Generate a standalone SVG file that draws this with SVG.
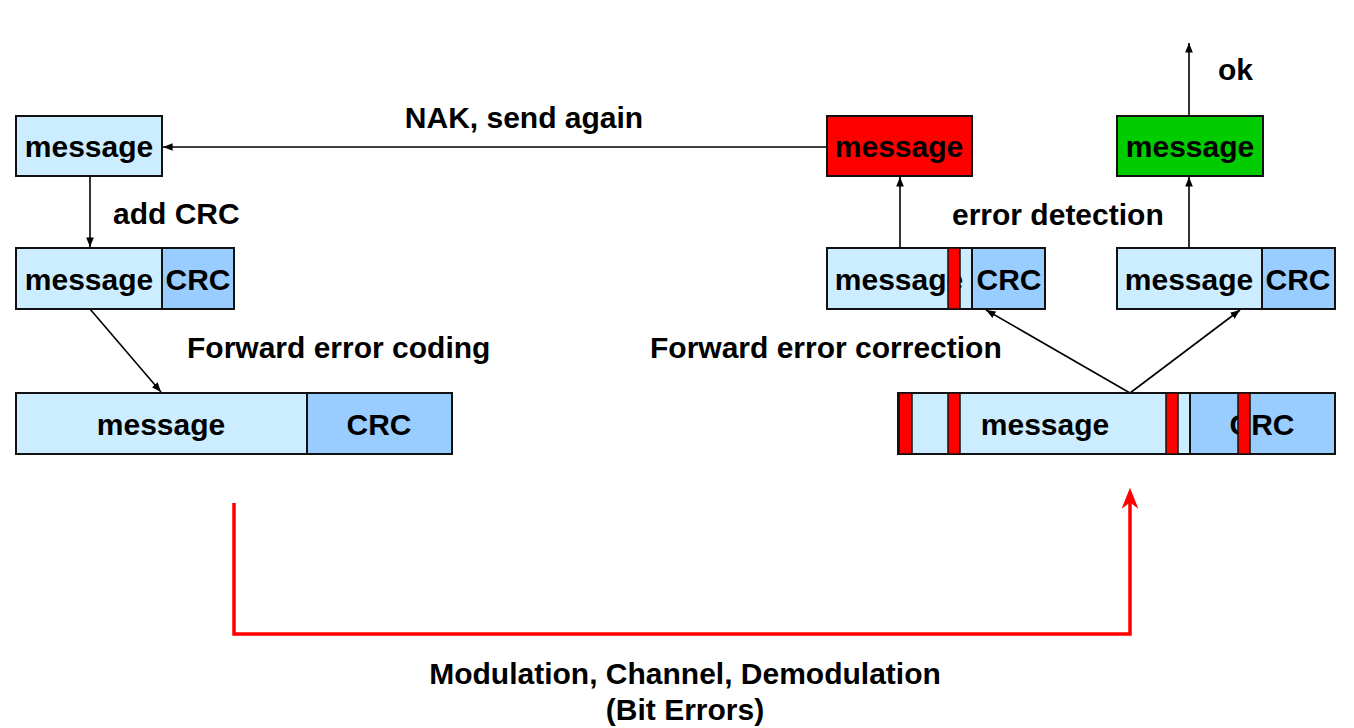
<svg xmlns="http://www.w3.org/2000/svg" width="1354" height="728" viewBox="0 0 1354 728">
<style>
text{font-family:"Liberation Sans",Arial,sans-serif;font-weight:bold;font-size:30px;fill:#000}
.c{text-anchor:middle}
.msg{fill:#CCECFF;stroke:#111;stroke-width:2}
.crc{fill:#99CCFF;stroke:#111;stroke-width:2}
.err{fill:#FF0000;stroke:#111;stroke-width:1.5}
.ln{stroke:#000;stroke-width:1.6;fill:none}
</style>
<defs>
<marker id="ah" viewBox="0 0 10 10" refX="10" refY="5" markerWidth="6" markerHeight="6" markerUnits="strokeWidth" orient="auto"><path d="M0,1 L10,5 L0,9 Z" fill="#000"/></marker>
<marker id="rh" viewBox="0 0 10 10" refX="8" refY="5" markerWidth="6" markerHeight="6" markerUnits="strokeWidth" orient="auto"><path d="M0,1 L10,5 L0,9 L3,5 Z" fill="#FF0000"/></marker>
</defs>
<g id="connectors">
<line class="ln" x1="90" y1="176" x2="90" y2="247" marker-end="url(#ah)"/>
<line class="ln" x1="827" y1="147" x2="163" y2="147" marker-end="url(#ah)"/>
<line class="ln" x1="90" y1="309" x2="161" y2="392" marker-end="url(#ah)"/>
<line class="ln" x1="1130" y1="393" x2="986" y2="310" marker-end="url(#ah)"/>
<line class="ln" x1="1130" y1="393" x2="1240" y2="310" marker-end="url(#ah)"/>
<line class="ln" x1="900" y1="248" x2="900" y2="177" marker-end="url(#ah)"/>
<line class="ln" x1="1189" y1="248" x2="1189" y2="177" marker-end="url(#ah)"/>
<line class="ln" x1="1189" y1="116" x2="1189" y2="43" marker-end="url(#ah)"/>
<path d="M234,503 V634 H1130 V492" fill="none" stroke="#FF0000" stroke-width="3.5" marker-end="url(#rh)"/>
</g>
<g id="labels">
<text class="c" x="524" y="128">NAK, send again</text>
<text x="113" y="224">add CRC</text>
<text x="187" y="358">Forward error coding</text>
<text x="650" y="358">Forward error correction</text>
<text x="952" y="225">error detection</text>
<text x="1218" y="80">ok</text>
<text class="c" x="685" y="684">Modulation, Channel, Demodulation</text>
<text class="c" x="685" y="720">(Bit Errors)</text>
</g>
<g id="src-msg">
<rect class="msg" x="16" y="116" width="146" height="60"/>
<text class="c" x="89" y="157">message</text>
</g>
<g id="src-msg-crc">
<rect class="msg" x="16" y="248" width="146" height="61"/>
<rect class="crc" x="162" y="248" width="72" height="61"/>
<text class="c" x="89" y="290">message</text>
<text class="c" x="198" y="290">CRC</text>
</g>
<g id="src-coded">
<rect class="msg" x="16" y="393" width="291" height="61"/>
<rect class="crc" x="307" y="393" width="145" height="61"/>
<text class="c" x="161" y="435">message</text>
<text class="c" x="379" y="435">CRC</text>
</g>
<g id="rx-coded">
<rect class="msg" x="898" y="393" width="292" height="61"/>
<rect class="crc" x="1190" y="393" width="145" height="61"/>
<text class="c" x="1045" y="435">message</text>
<text class="c" x="1262" y="435">CRC</text>
<rect class="err" x="899" y="393" width="13" height="61"/>
<rect class="err" x="948" y="393" width="12" height="61"/>
<rect class="err" x="1166" y="393" width="12" height="61"/>
<rect class="err" x="1238" y="393" width="12" height="61"/>
</g>
<g id="rx-bad">
<rect class="msg" x="827" y="248" width="145" height="61"/>
<rect class="crc" x="972" y="248" width="73" height="61"/>
<text class="c" x="899" y="290">message</text>
<text class="c" x="1009" y="290">CRC</text>
<rect class="err" x="948" y="248" width="12" height="61"/>
</g>
<g id="rx-good">
<rect class="msg" x="1117" y="248" width="145" height="61"/>
<rect class="crc" x="1262" y="248" width="73" height="61"/>
<text class="c" x="1189" y="290">message</text>
<text class="c" x="1298" y="290">CRC</text>
</g>
<g id="nak-msg">
<rect x="827" y="116" width="145" height="60" fill="#FF0000" stroke="#111" stroke-width="2"/>
<text class="c" x="899" y="157">message</text>
</g>
<g id="ok-msg">
<rect x="1117" y="116" width="146" height="60" fill="#00CC00" stroke="#111" stroke-width="2"/>
<text class="c" x="1190" y="157">message</text>
</g>
</svg>
